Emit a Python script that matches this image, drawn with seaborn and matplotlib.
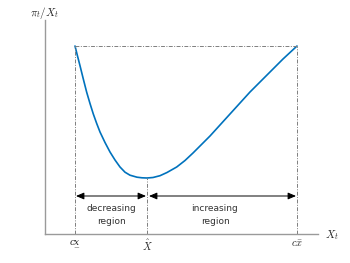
import matplotlib
matplotlib.use("Agg")
import matplotlib.pyplot as plt
import seaborn as sns
import pandas as pd

sns.set_theme(style="white")
plt.rcParams["font.family"] = ["DejaVu Sans"]
plt.rcParams["mathtext.fontset"] = "cm"

# Curve (arbitrary units; axis origin at 0)
x_vals = [30, 32.5, 35, 38.3, 41.7, 45, 48.3, 51.7, 55, 60, 65, 70, 75, 80, 85, 92, 97, 102,
          108, 115, 122, 131.7, 140, 148, 156, 165, 175, 185, 195, 205, 215, 225, 238, 252]
y_vals = [188, 178, 168.3, 155, 141.7, 130.5, 120, 110.5, 102, 91.5, 82, 74, 67, 61.8, 58.8, 56.8, 56.2, 56,
          56.5, 58.3, 61.5, 67, 73.5, 81, 89, 98, 109, 120, 131, 142, 152, 162, 175, 188]

x_low, x_hat, x_high = 30, 102, 252
tick_labels = ["cx\u0332", r"$\hat{X}$", r"$c\bar{x}$"]
region_labels = ["decreasing\nregion", "increasing\nregion"]

df = pd.DataFrame({"x": x_vals, "y": y_vals})

fig = plt.figure(figsize=(3.5, 2.63), dpi=100)
ax = fig.add_axes([45 / 350, 29 / 263, 273 / 350, 214 / 263])
sns.lineplot(data=df, x="x", y="y", ax=ax, color="#0072BD", linewidth=1.2, sort=False)

ax.set_xlim(0, 273)
ax.set_ylim(0, 214)
for s in ["top", "right"]:
    ax.spines[s].set_visible(False)
for s in ["left", "bottom"]:
    ax.spines[s].set_color("#9a9a9a")
    ax.spines[s].set_linewidth(1.0)
ax.set_xlabel("")
ax.set_ylabel("")

y_top = max(y_vals)
y_min = min(y_vals)
gray = "#7f7f7f"
dd = (4, 1.5, 1, 1.5)
ax.plot([x_low, x_high], [y_top, y_top], color=gray, linewidth=0.7, dashes=dd)
ax.plot([x_low, x_low], [0, y_top], color=gray, linewidth=0.7, dashes=dd)
ax.plot([x_high, x_high], [0, y_top], color=gray, linewidth=0.7, dashes=dd)
ax.plot([x_hat, x_hat], [0, y_min], color=gray, linewidth=0.7, dashes=dd)

ax.set_xticks([x_low, x_hat, x_high])
ax.set_xticklabels(tick_labels, fontsize=7.5)
lbls = ax.get_xticklabels()
lbls[0].set_fontfamily("DejaVu Serif")
lbls[0].set_fontstyle("italic")
lbls[0].set_fontsize(6.5)
ax.set_yticks([])
ax.tick_params(axis="x", length=0, pad=3)

arr_y = 38
ap = dict(arrowstyle="<|-|>,head_length=0.4,head_width=0.17", color="black", linewidth=0.7, shrinkA=0, shrinkB=0)
ax.annotate("", xy=(x_low + 1, arr_y), xytext=(x_hat - 1, arr_y), arrowprops=ap)
ax.annotate("", xy=(x_hat + 2, arr_y), xytext=(x_high - 1, arr_y), arrowprops=ap)

ax.text(66, 19, region_labels[0], ha="center", va="center", fontsize=6.5, linespacing=1.5, color="#333333")
ax.text(170, 19, region_labels[1], ha="center", va="center", fontsize=6.5, linespacing=1.5, color="#333333")

ax.text(-15, 221, r"$\pi_t/X_t$", fontsize=8, ha="left", va="center", clip_on=False)
ax.text(280, -1, r"$X_t$", fontsize=8, ha="left", va="center", clip_on=False)

fig.savefig("out.png", dpi=100)
